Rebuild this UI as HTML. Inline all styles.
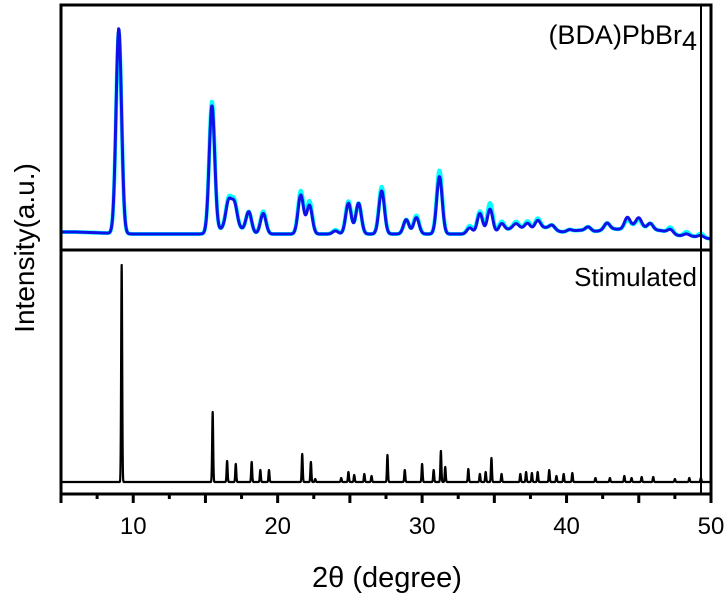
<!DOCTYPE html>
<html><head><meta charset="utf-8">
<style>
html,body{margin:0;padding:0;background:#fff;width:728px;height:593px;overflow:hidden}
svg{display:block;font-family:"Liberation Sans",Arial,sans-serif}
</style></head>
<body>
<svg id="chart" width="728" height="593" viewBox="0 0 728 593">
<g id="series"></g>
<g id="axes"></g>
<text x="697" y="44" text-anchor="end" font-size="27">(BDA)PbBr<tspan dy="6">4</tspan></text>
<text x="697" y="286" text-anchor="end" font-size="26">Stimulated</text>
<text x="387" y="587" text-anchor="middle" font-size="29">2θ (degree)</text>
<text transform="translate(34,248) rotate(-90)" text-anchor="middle" font-size="28">Intensity(a.u.)</text>
</svg>
<script>
// Experimental (blue) peaks: position, height
const expPos = [9.0,15.45,16.6,17.0,18.0,19.0,21.6,22.2,24.0,24.9,25.6,27.2,28.9,29.6,31.2,33.3,34.0,34.7,35.5,36.5,37.3,38.0,39.0,40.2,41.5,42.8,44.2,45.0,45.8,47.2,48.3,49.3];
const expH   = [100,62,12,11,10,10,19,14,1.5,15,15,21,7,8,28,3,10,12,4,2,3,4,2,1,2,3,5,4,3,2,1,1];
// Second scan (cyan) heights at same positions
const cyanH  = [98,64,13,12,10,11,21,16,2,16,15,23,7,9,31,4,11,15,5,3,4,5,2,1,2,3,4,3,3,3,2,2];
// Broad background humps (experimental)
const bgPos = [16.8,36.5,38.5,41.0,43.0,44.8,46.5,48.5];
const bgH   = [4,3,3,2,3,5,3,1];
const simPos = [9.2,15.5,16.5,17.1,18.2,18.8,19.4,21.7,22.3,22.6,24.4,24.9,25.3,26.0,26.5,27.6,28.8,30.0,30.8,31.3,31.6,33.2,34.0,34.4,34.8,35.5,36.8,37.2,37.6,38.0,38.8,39.3,39.8,40.4,42.0,43.0,44.0,44.5,45.2,46.0,47.5,48.5,49.3];
const simH   = [217,70,21,18,20,12,12,28,20,3,4,10,7,8,6,27,12,18,12,31,15,13,8,10,24,8,8,10,9,10,12,6,8,9,4,4,6,4,5,5,3,4,4];
const xTicks = [10,20,30,40,50];

const NS="http://www.w3.org/2000/svg";
const xS = t => 61 + (t-5)*650/45;
function profile(pos,h,sig,t){let s=0;for(let i=0;i<pos.length;i++){const d=(t-pos[i])/sig;s+=h[i]*Math.exp(-0.5*d*d);}return s;}
function curve(pos,h,sig,base,scale,step,bp,bh){let d="";for(let t=5;t<=50.0001;t+=step){let v=profile(pos,h,sig,t);if(bp)v+=profile(bp,bh,0.7,t);const b=base+Math.min(2,Math.max(0,(t-6)*0.5))+(t>40?(t-40)*0.5:0);const y=b-v*scale;d+=(d?"L":"M")+xS(t).toFixed(2)+","+y.toFixed(2);}return d;}
const g=document.getElementById('series');
function addPath(d,color,w,name){const p=document.createElementNS(NS,'path');p.setAttribute('d',d);p.setAttribute('fill','none');p.setAttribute('stroke',color);p.setAttribute('stroke-width',w);p.setAttribute('stroke-linejoin','round');


g.appendChild(p);}
addPath(curve(expPos,cyanH,0.19,232,2.05,0.03,bgPos,bgH),'#00ffff',4,'cyan-series-line');
addPath(curve(expPos,expH,0.19,232,2.05,0.03,bgPos,bgH),'#1010e8',3,'blue-series-line');
let sd="";for(let t=5;t<=50.0001;t+=0.01){const y=482-profile(simPos,simH,0.035,t);sd+=(sd?"L":"M")+xS(t).toFixed(2)+","+y.toFixed(2);}
addPath(sd,'#000',2.2,'simulated-series-line');

const a=document.getElementById('axes');
function line(x1,y1,x2,y2,w,name){const l=document.createElementNS(NS,'line');l.setAttribute('x1',x1);l.setAttribute('y1',y1);l.setAttribute('x2',x2);l.setAttribute('y2',y2);l.setAttribute('stroke','#000');l.setAttribute('stroke-width',w);


a.appendChild(l);}
const r=document.createElementNS(NS,'rect');r.setAttribute('x',61);r.setAttribute('y',5);r.setAttribute('width',650);r.setAttribute('height',489);r.setAttribute('fill','none');r.setAttribute('stroke','#000');r.setAttribute('stroke-width',3);


a.appendChild(r);
line(61,250,711,250,3,'panel-divider');
line(701,5,701,494,2,'right-inner-line');
for(let t=5;t<=50;t+=2.5){const major=(t%5===0);line(xS(t),494,xS(t),major?503:499,3,'x-tick');}
xTicks.forEach(v=>{const tx=document.createElementNS(NS,'text');tx.setAttribute('x',xS(v));tx.setAttribute('y',534);tx.setAttribute('text-anchor','middle');tx.setAttribute('font-size','24');tx.textContent=v;


a.appendChild(tx);});
</script>
</body></html>
